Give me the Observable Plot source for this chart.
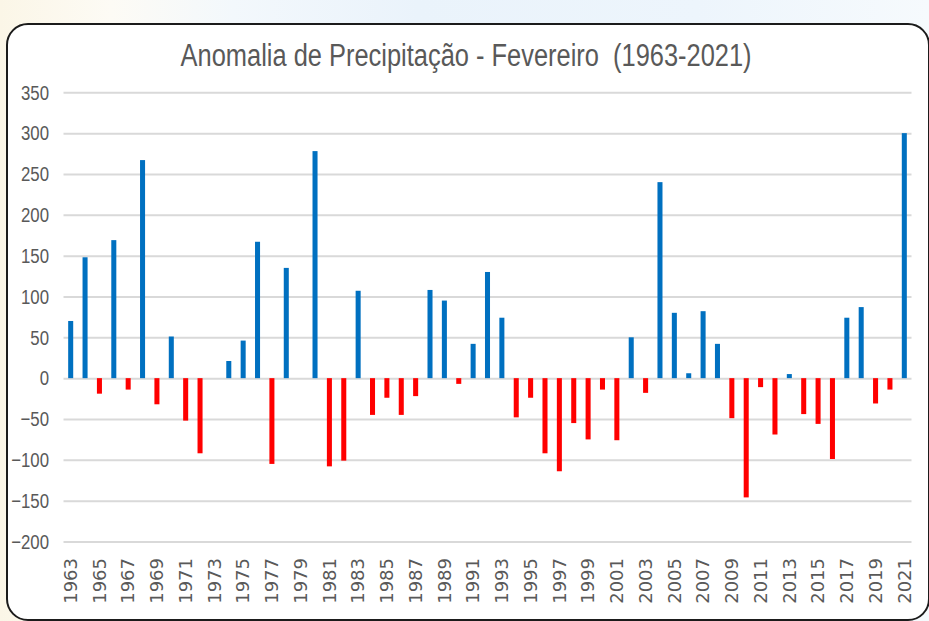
<!DOCTYPE html>
<html>
<head>
<meta charset="utf-8">
<script src="https://cdn.jsdelivr.net/npm/d3@7"></script>
<script src="https://cdn.jsdelivr.net/npm/@observablehq/plot@0.6"></script>
<style>
  html, body { margin: 0; padding: 0; }
  body {
    width: 929px; height: 621px; overflow: hidden; position: relative;
    background: linear-gradient(to right, #fbf6e7 0%, #fdfbf5 12%, #f3f8fc 25%, #eaf3fb 45%, #edf5fc 75%, #f6fafd 100%);
  }
  #frame {
    position: absolute; left: 6px; top: 23px; width: 924px; height: 598px;
    box-sizing: border-box; border: 2.5px solid #1b1b1b; border-radius: 22px; background: #ffffff;
  }
  #title {
    position: absolute; left: 0; top: 40px; width: 933px; text-align: center;
    font-family: "Liberation Sans", sans-serif; font-size: 31px; line-height: 31px;
    color: #595959; white-space: pre;
  }
  #title span { display: inline-block; transform-origin: 50% 50%; }
  #chart { position: absolute; left: 0; top: 0; }
</style>
</head>
<body>
<div id="frame"></div>
<div id="title"><span>Anomalia de Precipitação - Fevereiro  (1963-2021)</span></div>
<div id="chart"></div>
<script>
const years = d3.range(1963, 2022);
const values = [
  70, 148, -19, 169, -14, 267, -32, 51, -52, -92,
  0, 21, 46, 167, -105, 135, 0, 278, -108, -101,
  107, -45, -24, -45, -22, 108, 95, -7, 42, 130,
  74, -48, -24, -92, -114, -55, -75, -14, -76, 50,
  -18, 240, 80, 6, 82, 42, -49, -146, -11, -69,
  5, -44, -56, -99, 74, 87, -31, -14, 300
];
const yTicks = [-200, -150, -100, -50, 0, 50, 100, 150, 200, 250, 300, 350];
const xTickLabels = years.filter(y => y % 2 === 1);
const positiveColor = "#0070c0";
const negativeColor = "#ff0000";

const data = years.map((year, i) => ({year, value: values[i]}));

const chart = Plot.plot({
  width: 929,
  height: 621,
  marginTop: 92.3,
  marginBottom: 79.5,
  marginLeft: 63.5,
  marginRight: 17.5,
  style: {background: "transparent", overflow: "visible"},
  x: {type: "band", domain: years, paddingInner: 0.65, paddingOuter: 0.325, round: false, label: null},
  y: {domain: [-200, 350], label: null},
  color: {type: "identity"},
  marks: [
    Plot.gridY(yTicks, {stroke: "#d9d9d9", strokeOpacity: 1, strokeWidth: 2}),
    Plot.barY(data, {x: "year", y: "value", fill: d => d.value >= 0 ? positiveColor : negativeColor}),
    Plot.axisY(yTicks, {tickSize: 0, tickPadding: 15, fill: "#595959", fontSize: 21, fontFamily: "Liberation Sans, sans-serif", label: null}),
    Plot.axisX(xTickLabels, {tickSize: 0, tickPadding: 16, tickRotate: -90, tickFormat: d => String(d), fill: "#595959", fontSize: 18, fontFamily: "DejaVu Sans, sans-serif", label: null})
  ]
});
document.getElementById("chart").appendChild(chart);

// condense the y tick labels horizontally (Calibri-like narrow look)
d3.select(chart).selectAll('g[aria-label="y-axis tick label"] text').each(function() {
  const t = this.getAttribute("transform") || "";
  this.setAttribute("transform", t + " scale(0.8,1)");
});

// fit the title to the reference width
const span = document.querySelector("#title span");
const w = span.getBoundingClientRect().width;
span.style.transform = `scaleX(${571 / w})`;
</script>
</body>
</html>
